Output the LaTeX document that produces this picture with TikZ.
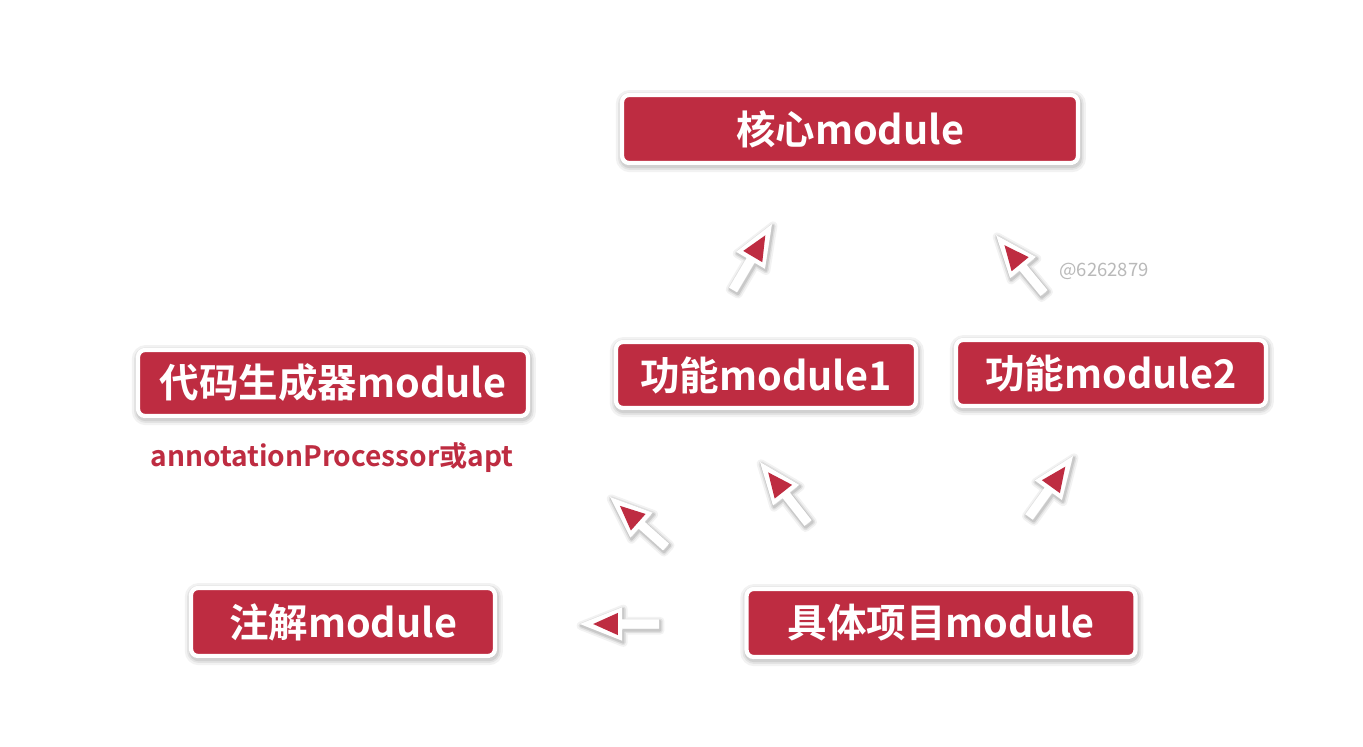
\documentclass[tikz,border=0pt]{standalone}
\usepackage{fontspec}
\newfontfamily\bx{Noto Sans CJK SC Bold}
\newfontfamily\rg{Noto Sans CJK SC}
\usetikzlibrary{calc,shadows}
\definecolor{modred}{RGB}{190,44,65}
\definecolor{wmgrey}{RGB}{185,185,185}
\tikzset{
  halo/.style={general shadow={shadow xshift=0.5pt, shadow yshift=-1.2pt,
      fill=black, draw=black, opacity=#1}},
  modbox/.style={rectangle, rounded corners=4pt, fill=modred, draw=white,
    line width=2.4pt, text=white, font=\bx\fontsize{22.5}{26}\selectfont,
    inner sep=0pt,
    halo={0.05, line width=8pt},
    halo={0.06, line width=5.5pt},
    halo={0.08, line width=3.5pt}},
  arrhalo/.style={draw=black, line join=round, opacity=#1},
}
\newcommand\fatarrow[2]{%
  \path let \p1=($(#2)-(#1)$) in \pgfextra{%
    \pgfmathsetmacro\arrang{atan2(\y1,\x1)}%
    \pgfmathsetmacro\arrlen{veclen(\x1,\y1)}%
    \xdef\arrang{\arrang}\xdef\arrlen{\arrlen}};
  \begin{scope}[shift={(#1)},rotate=\arrang]
    \def\arrshape{(0pt,-2.6pt) -- (\arrlen pt-24pt,-2.6pt) -- (\arrlen pt-24pt,-9.5pt)
      -- (\arrlen pt,0pt) -- (\arrlen pt-24pt,9.5pt) -- (\arrlen pt-24pt,2.6pt) -- (0pt,2.6pt) -- cycle}
    \begin{scope}[transform canvas={shift={(0.6pt,-1.0pt)}}]
      \draw[arrhalo=0.05, line width=5pt] \arrshape;
      \draw[arrhalo=0.07, line width=3pt] \arrshape;
      \draw[arrhalo=0.10, line width=1.4pt] \arrshape;
    \end{scope}
    \fill[white] \arrshape;
    \fill[modred] (\arrlen pt-21.5pt,-6.3pt) -- (\arrlen pt-7.5pt,0pt) -- (\arrlen pt-21.5pt,6.3pt) -- cycle;
  \end{scope}}
\begin{document}
\begin{tikzpicture}[x=0.02cm,y=-0.02cm]
  \useasboundingbox[fill=white] (0,0) rectangle (1363,747);
  \node[modbox, minimum width=9.12cm, minimum height=1.36cm] (core) at (850,129) {核心module};
  \node[modbox, minimum width=7.8cm, minimum height=1.32cm] (gen) at (333,383) {代码生成器module};
  \node[modbox, minimum width=6.0cm, minimum height=1.32cm] (f1) at (766,375) {功能module1};
  \node[modbox, minimum width=6.2cm, minimum height=1.32cm] (f2) at (1111,373) {功能module2};
  \node[modbox, minimum width=6.08cm, minimum height=1.36cm] (ann) at (343,622) {注解module};
  \node[modbox, minimum width=7.78cm, minimum height=1.36cm] (proj) at (941,623) {具体项目module};
  \node[text=modred, font=\bx\fontsize{16}{19}\selectfont] (apt) at (332,458) {annotationProcessor或apt};
  \node[text=wmgrey, font=\rg\fontsize{10.5}{13}\selectfont] (wm) at (1104,271) {@6262879};
  % arrow end points
  \coordinate (a1t) at (733,290); \coordinate (a1h) at (772,224);
  \coordinate (a2t) at (1044,293); \coordinate (a2h) at (996,235);
  \coordinate (a3t) at (666,547); \coordinate (a3h) at (610,497);
  \coordinate (a4t) at (808,523); \coordinate (a4h) at (760,462);
  \coordinate (a5t) at (1029,517); \coordinate (a5h) at (1073,456);
  \coordinate (a6t) at (659,624); \coordinate (a6h) at (580,624);
  \fatarrow{a1t}{a1h}
  \fatarrow{a2t}{a2h}
  \fatarrow{a3t}{a3h}
  \fatarrow{a4t}{a4h}
  \fatarrow{a5t}{a5h}
  \fatarrow{a6t}{a6h}
\end{tikzpicture}
\end{document}
